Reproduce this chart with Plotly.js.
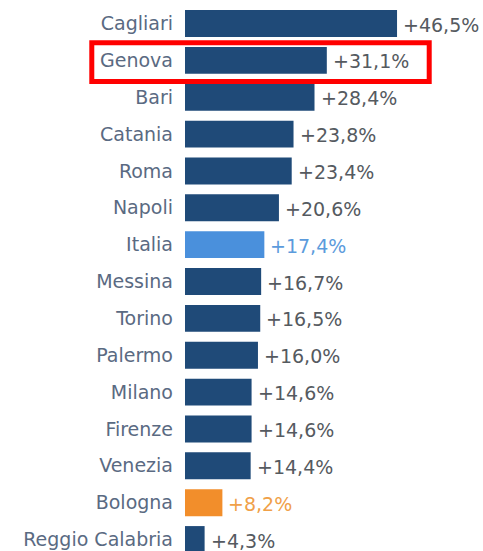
<!DOCTYPE html>
<html><head><meta charset="utf-8">
<script src="https://cdn.plot.ly/plotly-3.0.1.min.js"></script>
<style>html,body{margin:0;padding:0;background:#fff}#chart{width:483px;height:551px}</style>
</head><body><div id="chart"></div>
<script>
const cities = ["Cagliari","Genova","Bari","Catania","Roma","Napoli","Italia","Messina","Torino","Palermo","Milano","Firenze","Venezia","Bologna","Reggio Calabria"];
const growth = [46.5,31.1,28.4,23.8,23.4,20.6,17.4,16.7,16.5,16.0,14.6,14.6,14.4,8.2,4.3];
const valueLabels = ["+46,5%","+31,1%","+28,4%","+23,8%","+23,4%","+20,6%","+17,4%","+16,7%","+16,5%","+16,0%","+14,6%","+14,6%","+14,4%","+8,2%","+4,3%"];

const DARK="#1f4a78", ITA="#4a90dc", BOL="#f28e2b";
const FONT="DejaVu Sans, sans-serif";
const barColors = cities.map(c => c==="Italia"?ITA:(c==="Bologna"?BOL:DARK));
const textColors = cities.map(c => c==="Italia"?"#5b9bdc":(c==="Bologna"?"#f0a048":"#555a60"));
const idx = cities.map((c,i)=>i);

const trace = {
  type:"bar", orientation:"h", x:growth, y:idx, width:0.73,
  marker:{color:barColors}, hoverinfo:"skip"
};
const annotations = cities.map((c,i)=>({
  x:growth[i], y:i, xref:"x", yref:"y", text:valueLabels[i], showarrow:false,
  xanchor:"left", xshift:4, yshift:-1, font:{family:FONT, size:19, color:textColors[i]}
}));
const layout = {
  width:483, height:551, margin:{l:185,r:0,t:0,b:0},
  paper_bgcolor:"#fff", plot_bgcolor:"#fff", showlegend:false,
  xaxis:{range:[0,65.35], visible:false, fixedrange:true},
  yaxis:{range:[14.311,-0.6376], tickmode:"array", tickvals:idx, ticktext:cities,
    showgrid:false, zeroline:false, showline:false, ticks:"", ticklabelstandoff:11,
    ticklabeloverflow:"allow",
    tickfont:{family:FONT, size:19, color:"#5a6a82"}},
  annotations:annotations,
  shapes:[{type:"rect", xref:"paper", yref:"y", x0:-0.3128, x1:0.8195, y0:0.524, y1:1.574,
    line:{color:"#ff0000", width:5}, fillcolor:"rgba(0,0,0,0)"}]
};
Plotly.newPlot("chart",[trace],layout,{staticPlot:true,displayModeBar:false});
</script></body></html>
